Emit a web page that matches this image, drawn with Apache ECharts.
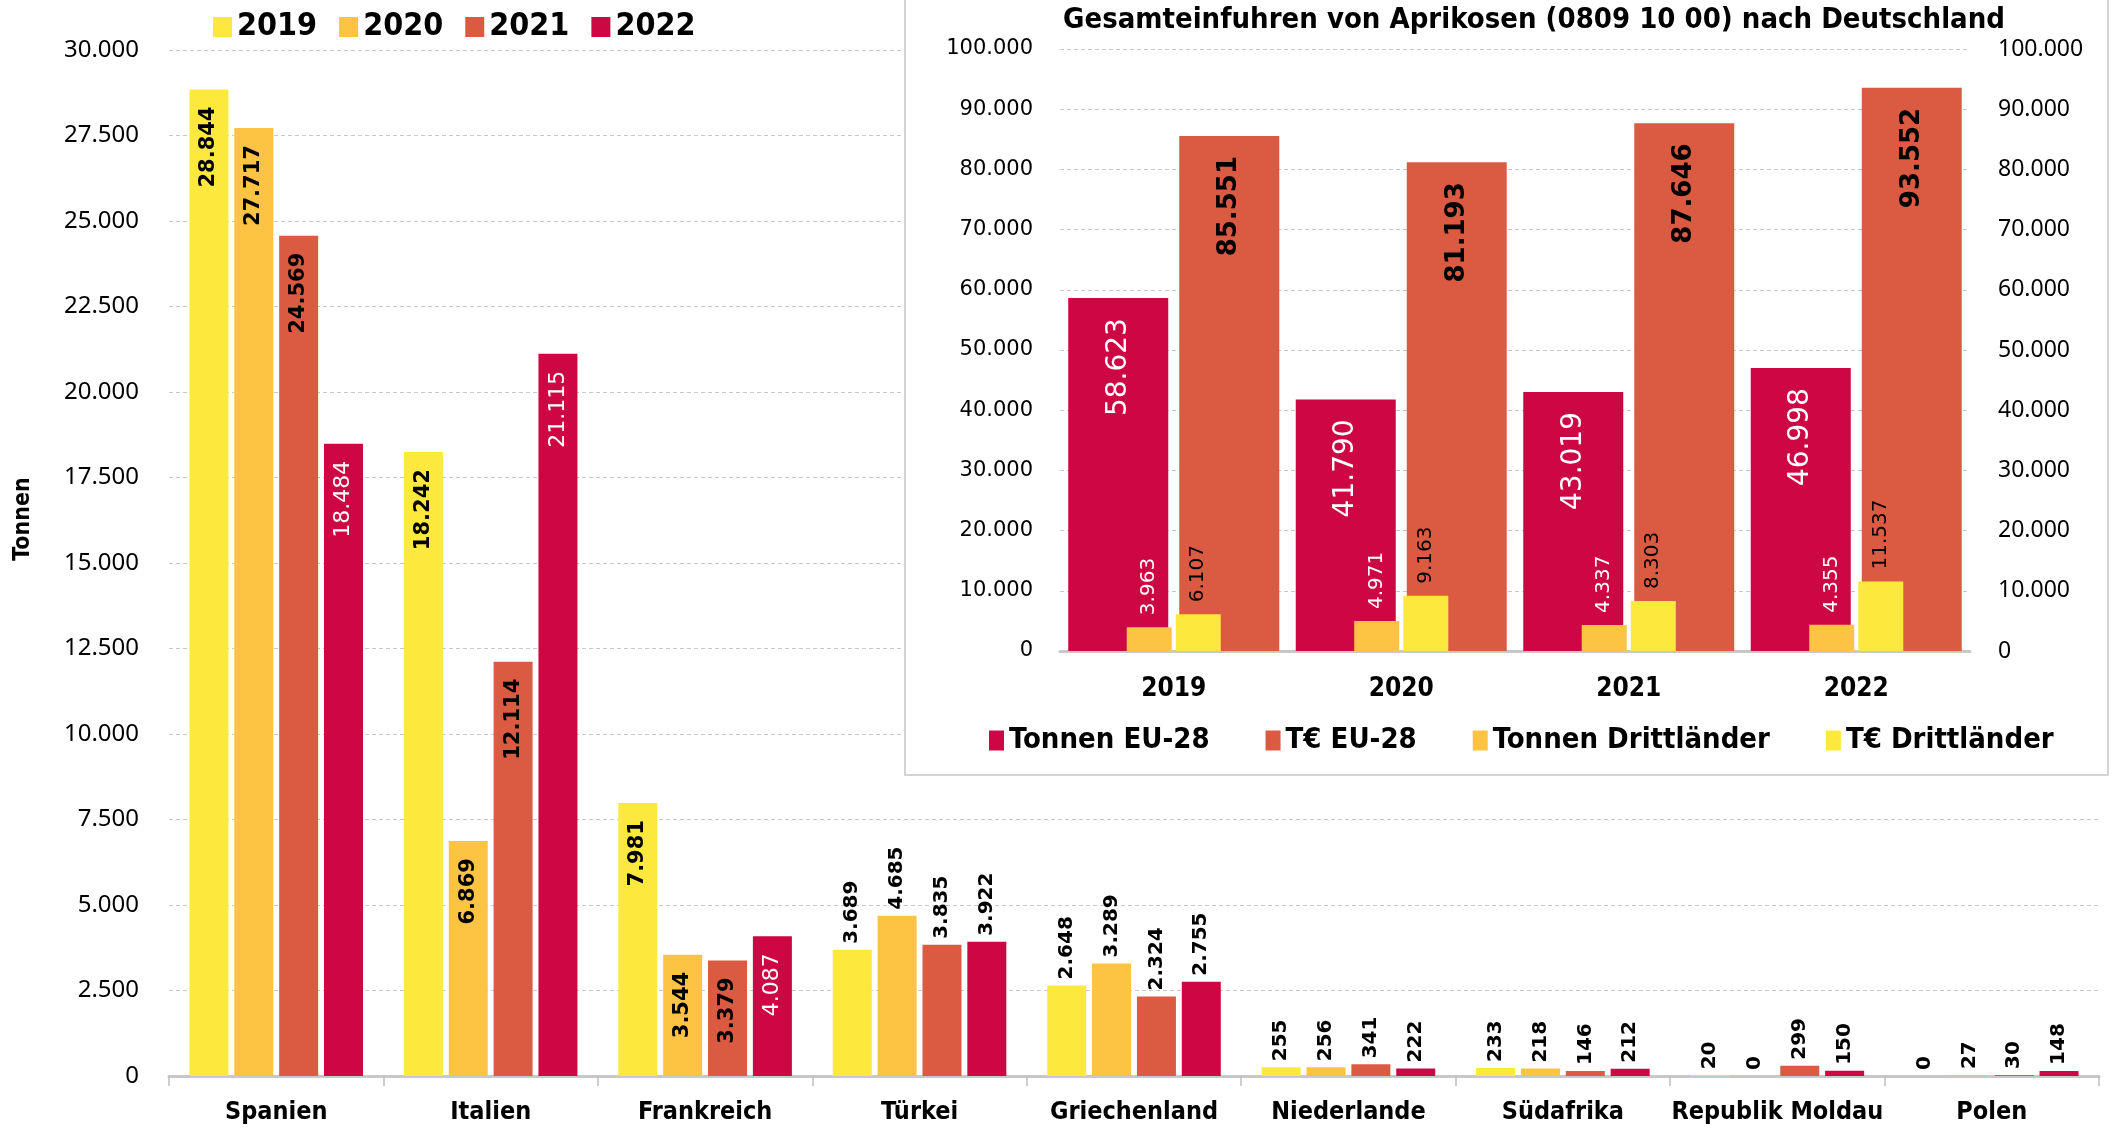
<!DOCTYPE html>
<html>
<head>
<meta charset="utf-8">
<script src="https://cdn.jsdelivr.net/npm/echarts@6/dist/echarts.min.js"></script>
<style>
  html, body { margin: 0; padding: 0; background: #fff; }
  #chart { width: 2123px; height: 1129px; }
</style>
</head>
<body>
<div id="chart"></div>
<script>
// Haupt-Diagramm: Einfuhren nach Herkunftsland (Tonnen)
var countries = ['Spanien', 'Italien', 'Frankreich', 'Türkei', 'Griechenland', 'Niederlande', 'Südafrika', 'Republik Moldau', 'Polen'];
var years = ['2019', '2020', '2021', '2022'];
var v2019 = [28844, 18242, 7981, 3689, 2648, 255, 233, 20, 0];
var v2020 = [27717, 6869, 3544, 4685, 3289, 256, 218, 0, 27];
var v2021 = [24569, 12114, 3379, 3835, 2324, 341, 146, 299, 30];
var v2022 = [18484, 21115, 4087, 3922, 2755, 222, 212, 150, 148];

// Inset: Gesamteinfuhren
var insetYears = ['2019', '2020', '2021', '2022'];
var tonnenEU = [58623, 41790, 43019, 46998];
var teurEU = [85551, 81193, 87646, 93552];
var tonnenDritt = [3963, 4971, 4337, 4355];
var teurDritt = [6107, 9163, 8303, 11537];

var YELLOW = '#fde93d', ORANGE = '#fdc342', RED = '#db5a42', CRIMSON = '#cc0744';
var COND = "'Liberation Sans Narrow', 'DejaVu Sans Condensed', 'Noto Sans', sans-serif";
var LBL = "'DejaVu Sans', sans-serif";
var insideCount = 3; // die ersten drei Länder: Beschriftung im Balken

function fmt(v) {
  return String(v).replace(/\B(?=(\d{3})+(?!\d))/g, '.');
}

function mainData(vals, white) {
  return vals.map(function (v, i) {
    if (i < insideCount) {
      return { value: v, label: { position: 'insideTop', align: 'right', distance: 17,
        color: white ? '#fff' : '#000', fontWeight: white ? 'normal' : 'bold', fontSize: white ? 22 : 21 } };
    }
    return { value: v, label: { position: 'top', align: 'left', distance: 6, color: '#000', fontWeight: 'bold', fontSize: 20 } };
  });
}

function mainSeries(name, vals, color, white) {
  return {
    name: name, type: 'bar', xAxisIndex: 0, yAxisIndex: 0,
    barWidth: 39, barGap: '15%',
    itemStyle: { color: color },
    data: mainData(vals, white),
    label: {
      show: true, rotate: 90, verticalAlign: 'middle',
      fontFamily: LBL, fontSize: 21,
      formatter: function (p) { return fmt(p.value); }
    }
  };
}

var gridLine = { show: true, lineStyle: { color: '#c8c8c8', type: [4, 3], width: 1 } };

var chart = echarts.init(document.getElementById('chart'), null, { renderer: 'canvas' });
chart.setOption({
  animation: false,
  backgroundColor: '#fff',
  grid: [
    { left: 169, right: 24, top: 50, bottom: 53 },
    { left: 1060, right: 153, top: 49, bottom: 478 }
  ],
  legend: [
    {
      data: years, left: 208, top: 6, icon: 'rect', itemWidth: 19, itemHeight: 20, itemGap: 22,
      textStyle: { fontFamily: COND, fontWeight: 'bold', fontSize: 32, color: '#000' }
    },
    {
      data: ['Tonnen EU-28', 'T€ EU-28', 'Tonnen Drittländer', 'T€ Drittländer'],
      left: 984, top: 721, icon: 'rect', itemWidth: 15, itemHeight: 20, itemGap: 56,
      textStyle: { fontFamily: COND, fontWeight: 'bold', fontSize: 29, color: '#000' }
    }
  ],
  xAxis: [
    {
      type: 'category', gridIndex: 0, data: countries,
      axisLine: { lineStyle: { color: '#c8c8c8', width: 3 } },
      axisTick: { show: true, length: 10, lineStyle: { color: '#bdbdbd', width: 1.5 } },
      axisLabel: { interval: 0, color: '#000', fontFamily: COND, fontWeight: 'bold', fontSize: 25, margin: 24 }
    },
    {
      type: 'category', gridIndex: 1, data: insetYears, z: 2,
      axisLine: { lineStyle: { color: '#c8c8c8', width: 3 } },
      axisTick: { show: false },
      axisLabel: { interval: 0, color: '#000', fontFamily: COND, fontWeight: 'bold', fontSize: 26, margin: 25 }
    },
    { type: 'category', gridIndex: 1, data: insetYears, show: false }
  ],
  yAxis: [
    {
      type: 'value', gridIndex: 0, min: 0, max: 30000, interval: 2500,
      axisLine: { show: false }, axisTick: { show: false },
      axisLabel: { color: '#000', fontFamily: "'Noto Sans', sans-serif", fontSize: 24, margin: 30, formatter: fmt },
      splitLine: gridLine
    },
    {
      type: 'value', gridIndex: 1, min: 0, max: 100000, interval: 10000, z: 2,
      axisLine: { show: false }, axisTick: { show: false },
      axisLabel: { color: '#000', fontFamily: LBL, fontSize: 21, margin: 27, formatter: fmt },
      splitLine: gridLine
    },
    {
      type: 'value', gridIndex: 1, position: 'right', min: 0, max: 100000, interval: 10000, z: 2,
      axisLine: { show: false }, axisTick: { show: false },
      axisLabel: { color: '#000', fontFamily: "'Noto Sans', sans-serif", fontSize: 23, margin: 28, formatter: fmt },
      splitLine: { show: false }
    }
  ],
  series: [
    mainSeries('2019', v2019, YELLOW, false),
    mainSeries('2020', v2020, ORANGE, false),
    mainSeries('2021', v2021, RED, false),
    mainSeries('2022', v2022, CRIMSON, true),
    {
      name: 'Tonnen EU-28', type: 'bar', xAxisIndex: 1, yAxisIndex: 1, z: 3,
      barWidth: 100, barGap: '11%', itemStyle: { color: CRIMSON }, data: tonnenEU,
      label: { show: true, position: 'insideTop', rotate: 90, align: 'right', verticalAlign: 'middle', distance: 20,
        color: '#fff', fontFamily: LBL, fontSize: 28, formatter: function (p) { return fmt(p.value); } }
    },
    {
      name: 'T€ EU-28', type: 'bar', xAxisIndex: 1, yAxisIndex: 1, z: 3,
      barWidth: 100, barGap: '11%', itemStyle: { color: RED }, data: teurEU,
      label: { show: true, position: 'insideTop', rotate: 90, align: 'right', verticalAlign: 'middle', distance: 20,
        color: '#000', fontWeight: 'bold', fontFamily: LBL, fontSize: 26, formatter: function (p) { return fmt(p.value); } }
    },
    {
      name: 'Tonnen Drittländer', type: 'bar', xAxisIndex: 2, yAxisIndex: 1, z: 4,
      barWidth: 45, barGap: '9%', itemStyle: { color: ORANGE }, data: tonnenDritt,
      label: { show: true, position: 'top', rotate: 90, align: 'left', verticalAlign: 'middle', distance: 12,
        color: '#fff', fontFamily: LBL, fontSize: 20, formatter: function (p) { return fmt(p.value); } }
    },
    {
      name: 'T€ Drittländer', type: 'bar', xAxisIndex: 2, yAxisIndex: 1, z: 4,
      barWidth: 45, barGap: '9%', itemStyle: { color: YELLOW }, data: teurDritt,
      label: { show: true, position: 'top', rotate: 90, align: 'left', verticalAlign: 'middle', distance: 12,
        color: '#000', fontFamily: LBL, fontSize: 20, formatter: function (p) { return fmt(p.value); } }
    }
  ],
  graphic: [
    {
      type: 'rect', z: 1, silent: true,
      shape: { x: 905, y: -4, width: 1203, height: 779 },
      style: { fill: '#fff', stroke: '#d4d4d4', lineWidth: 2 }
    },
    {
      type: 'text', z: 5, x: 1534, y: 20,
      style: { text: 'Gesamteinfuhren von Aprikosen (0809 10 00) nach Deutschland', fill: '#000',
        font: 'bold 29px ' + COND, textAlign: 'center', textVerticalAlign: 'middle' }
    },
    {
      type: 'text', z: 5, x: 23, y: 519, rotation: Math.PI / 2,
      style: { text: 'Tonnen', fill: '#000', font: 'bold 23px ' + COND, textAlign: 'center', textVerticalAlign: 'middle' }
    }
  ]
});
</script>
</body>
</html>
